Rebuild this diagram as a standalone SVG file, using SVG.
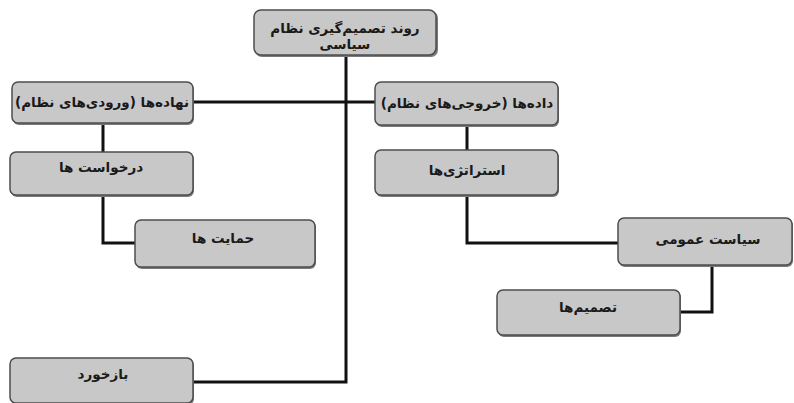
<svg xmlns="http://www.w3.org/2000/svg" width="794" height="403" viewBox="0 0 794 403">
<style>
.bg{fill:#ffffff}
.box{fill:#c8c8c8;stroke:#4d4d4d;stroke-width:1.5}
.sh{fill:#7a7a7a}
.lbl{font-family:"DejaVu Sans","Noto Sans",sans-serif;font-size:13.5px;font-weight:bold;fill:#1a1a1a;text-anchor:middle;direction:rtl;unicode-bidi:embed}
.conn{fill:none;stroke:#111;stroke-width:3;stroke-linejoin:miter}
</style>
<rect class="bg" x="0" y="0" width="794" height="403"/>
<g id="connectors">
<polyline class="conn" points="346,55 346,382 193,382"/>
<line class="conn" x1="193" y1="102" x2="375" y2="102"/>
<line class="conn" x1="103" y1="123" x2="103" y2="152"/>
<polyline class="conn" points="103,195 103,243 135,243"/>
<line class="conn" x1="467" y1="125" x2="467" y2="150"/>
<polyline class="conn" points="467,195 467,243 618,243"/>
<polyline class="conn" points="712,265 712,312 680,312"/>
</g>
<g id="n-root">
<rect class="sh" x="255" y="11" width="183" height="46" rx="7"/>
<rect class="box" x="254" y="10" width="182" height="45" rx="7"/>
<text class="lbl" x="345" y="33">روند تصمیم‌گیری نظام</text>
<text class="lbl" x="345" y="49">سیاسی</text>
</g>
<g id="n-inputs">
<rect class="sh" x="13" y="83" width="181" height="42" rx="6"/>
<rect class="box" x="12" y="82" width="181" height="41" rx="6"/>
<text class="lbl" x="102" y="107">نهاده‌ها (ورودی‌های نظام)</text>
</g>
<g id="n-outputs">
<rect class="sh" x="376" y="83" width="183" height="44" rx="6"/>
<rect class="box" x="375" y="82" width="183" height="43" rx="6"/>
<text class="lbl" x="467" y="108">داده‌ها (خروجی‌های نظام)</text>
</g>
<g id="n-demands">
<rect class="sh" x="11" y="153" width="183" height="44" rx="6"/>
<rect class="box" x="10" y="152" width="183" height="43" rx="6"/>
<text class="lbl" x="101" y="172">درخواست ها</text>
</g>
<g id="n-strategies">
<rect class="sh" x="376" y="151" width="183" height="46" rx="6"/>
<rect class="box" x="375" y="150" width="183" height="45" rx="6"/>
<text class="lbl" x="467" y="175">استراتژی‌ها</text>
</g>
<g id="n-supports">
<rect class="sh" x="136" y="221" width="180" height="48" rx="6"/>
<rect class="box" x="135" y="220" width="180" height="47" rx="6"/>
<text class="lbl" x="223" y="243">حمایت ها</text>
</g>
<g id="n-policy">
<rect class="sh" x="619" y="219" width="174" height="48" rx="6"/>
<rect class="box" x="618" y="218" width="174" height="47" rx="6"/>
<text class="lbl" x="708" y="244">سیاست عمومی</text>
</g>
<g id="n-decisions">
<rect class="sh" x="498" y="291" width="183" height="46" rx="6"/>
<rect class="box" x="497" y="290" width="183" height="45" rx="6"/>
<text class="lbl" x="588" y="312">تصمیم‌ها</text>
</g>
<g id="n-feedback">
<rect class="sh" x="11" y="359" width="183" height="46" rx="6"/>
<rect class="box" x="10" y="358" width="183" height="45" rx="6"/>
<text class="lbl" x="103" y="379">بازخورد</text>
</g>
</svg>
